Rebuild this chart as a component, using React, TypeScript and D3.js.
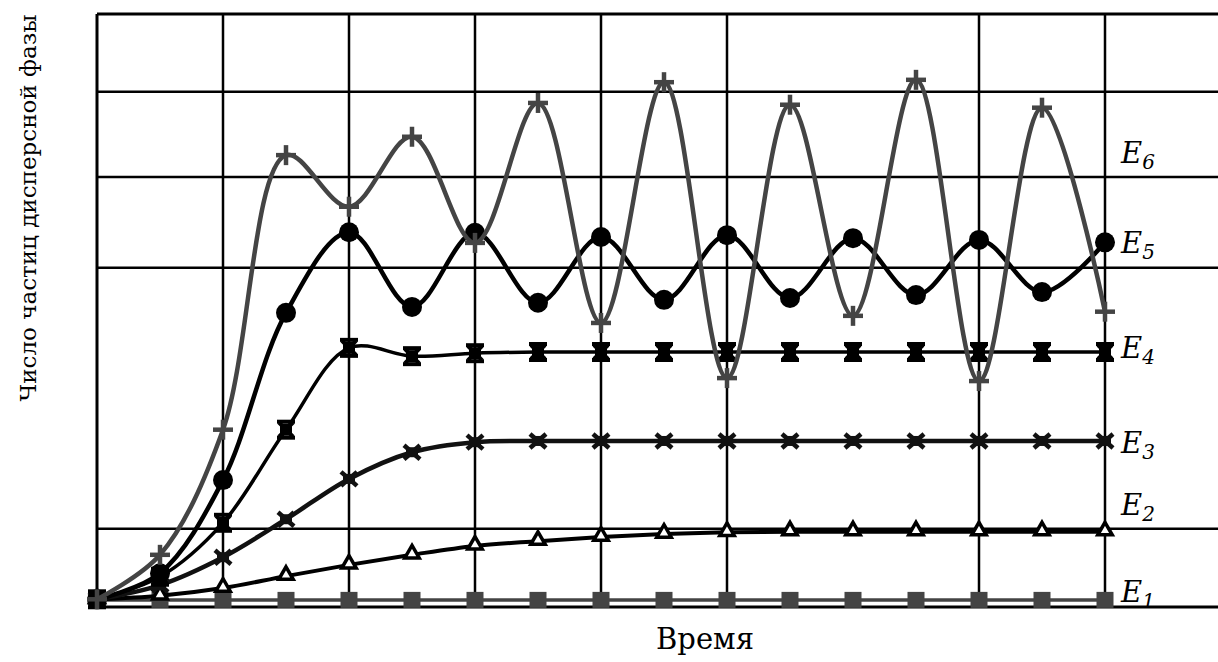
import React from "react";
import * as d3 from "d3";

// ---- data (arbitrary units) ----
const timeSteps = d3.range(0, 17); // 0..16
const seriesNames = ["E1", "E2", "E3", "E4", "E5", "E6"];
const e1 = [1.2, 1.2, 1.2, 1.2, 1.2, 1.2, 1.2, 1.2, 1.2, 1.2, 1.2, 1.2, 1.2, 1.2, 1.2, 1.2, 1.2];
const e2 = [1.3, 1.9, 3.2, 5.2, 7.1, 8.8, 10.3, 11.1, 11.8, 12.3, 12.6, 12.7, 12.7, 12.7, 12.7, 12.7, 12.7];
const e3 = [1.3, 3.7, 8.4, 14.8, 21.6, 26.1, 27.8, 28.0, 28.0, 28.0, 28.0, 28.0, 28.0, 28.0, 28.0, 28.0, 28.0];
const e4 = [1.3, 5.1, 14.2, 29.9, 43.7, 42.3, 42.8, 43.0, 43.0, 43.0, 43.0, 43.0, 43.0, 43.0, 43.0, 43.0, 43.0];
const e5 = [1.3, 5.7, 21.4, 49.6, 63.2, 50.6, 63.1, 51.3, 62.4, 51.8, 62.7, 52.1, 62.2, 52.6, 61.9, 53.1, 61.5];
const e6 = [1.3, 8.8, 29.9, 76.2, 67.5, 79.3, 61.4, 85.0, 47.9, 88.5, 38.6, 84.7, 49.1, 88.9, 38.1, 84.2, 49.8];
const xGridSteps = [0, 2, 4, 6, 8, 10, 14, 16];
const yGridValues = [0, 13.2, 57.2, 72.5, 86.9, 100];
const labelValues = [0.8, 15.5, 26.0, 42.0, 59.7, 74.9];
const xTitle = "Время";
const yTitle = "Число частиц дисперсной фазы";

const W = 1218;
const H = 662;
const x = d3.scaleLinear().domain([0, 16]).range([97, 1105]);
const y = d3.scaleLinear().domain([0, 100]).range([607, 14]);

const GRAY = "#444444";
const BLACK = "#000000";
const FONT = "DejaVu Serif";

const allSeries = [e1, e2, e3, e4, e5, e6];
const lineColors = [GRAY, BLACK, "#111111", BLACK, BLACK, GRAY];
const lineWidths = [3.5, 4, 4.5, 3.5, 4.5, 4.5];

function Marker({ kind, cx, cy }: { kind: number; cx: number; cy: number }) {
  switch (kind) {
    case 0:
      return <rect x={cx - 8.5} y={cy - 8} width={17} height={16} fill={GRAY} />;
    case 1: {
      const p = d3.symbol(d3.symbolTriangle, 90)();
      return (
        <path d={p || ""} transform={`translate(${cx},${cy - 1})`} fill="#fff" stroke={BLACK} strokeWidth={3.5} />
      );
    }
    case 2:
      return (
        <g stroke="#111" strokeWidth={4.5}>
          <line x1={cx - 8} y1={cy - 7} x2={cx + 8} y2={cy + 7} />
          <line x1={cx - 8} y1={cy + 7} x2={cx + 8} y2={cy - 7} />
          <rect x={cx - 6} y={cy - 5} width={12} height={10} fill="#111" stroke="none" />
        </g>
      );
    case 3:
      return (
        <g stroke={BLACK} strokeWidth={4}>
          <line x1={cx - 7} y1={cy - 7} x2={cx + 7} y2={cy + 7} />
          <line x1={cx - 7} y1={cy + 7} x2={cx + 7} y2={cy - 7} />
          <line x1={cx - 9} y1={cy - 8} x2={cx + 9} y2={cy - 8} />
          <line x1={cx - 9} y1={cy + 8} x2={cx + 9} y2={cy + 8} />
          <rect x={cx - 6} y={cy - 6} width={12} height={12} fill={BLACK} stroke="none" />
        </g>
      );
    case 4:
      return <circle cx={cx} cy={cy} r={10} fill={BLACK} />;
    default:
      return (
        <g stroke={GRAY} strokeWidth={4.5}>
          <line x1={cx - 10} y1={cy} x2={cx + 10} y2={cy} />
          <line x1={cx} y1={cy - 10} x2={cx} y2={cy + 10} />
        </g>
      );
  }
}

export default function App() {
  const line = d3
    .line<number>()
    .x((_, i) => x(timeSteps[i]))
    .y((d) => y(d))
    .curve(d3.curveCatmullRom.alpha(0.5));

  return (
    <svg
      width={W}
      height={H}
      style={{ position: "absolute", left: 0, top: 0, background: "#fff" }}
    >
      <rect x={0} y={0} width={W} height={H} fill="#fff" />
      {/* grid */}
      {yGridValues.map((v) => (
        <line key={"h" + v} x1={x(0)} x2={W} y1={y(v)} y2={y(v)} stroke={BLACK} strokeWidth={v === 0 || v === 100 ? 3 : 2.5} />
      ))}
      {xGridSteps.map((s) => (
        <line key={"v" + s} x1={x(s)} x2={x(s)} y1={y(100)} y2={y(0)} stroke={BLACK} strokeWidth={s === 0 ? 3 : 2.5} />
      ))}
      {/* series */}
      {allSeries.map((vals, si) => (
        <g key={seriesNames[si]}>
          <path d={line(vals) || ""} fill="none" stroke={lineColors[si]} strokeWidth={lineWidths[si]} />
          {vals.map((v, i) => (
            <Marker key={i} kind={si} cx={x(timeSteps[i])} cy={y(v)} />
          ))}
        </g>
      ))}
      {/* series labels */}
      {labelValues.map((v, i) => (
        <text key={"l" + i} x={1121} y={y(v)} fontSize={29} fontStyle="italic" fill={BLACK} fontFamily={FONT}>
          E
          <tspan fontSize={20} dy={6}>
            {i + 1}
          </tspan>
        </text>
      ))}
      {/* titles */}
      <text x={705} y={649} fontSize={29} textAnchor="middle" fill={BLACK} fontFamily={FONT}>
        {xTitle}
      </text>
      <text
        transform={`translate(36,208) rotate(-90)`}
        fontSize={23}
        textAnchor="middle"
        fill={BLACK}
        fontFamily={FONT}
      >
        {yTitle}
      </text>
    </svg>
  );
}
